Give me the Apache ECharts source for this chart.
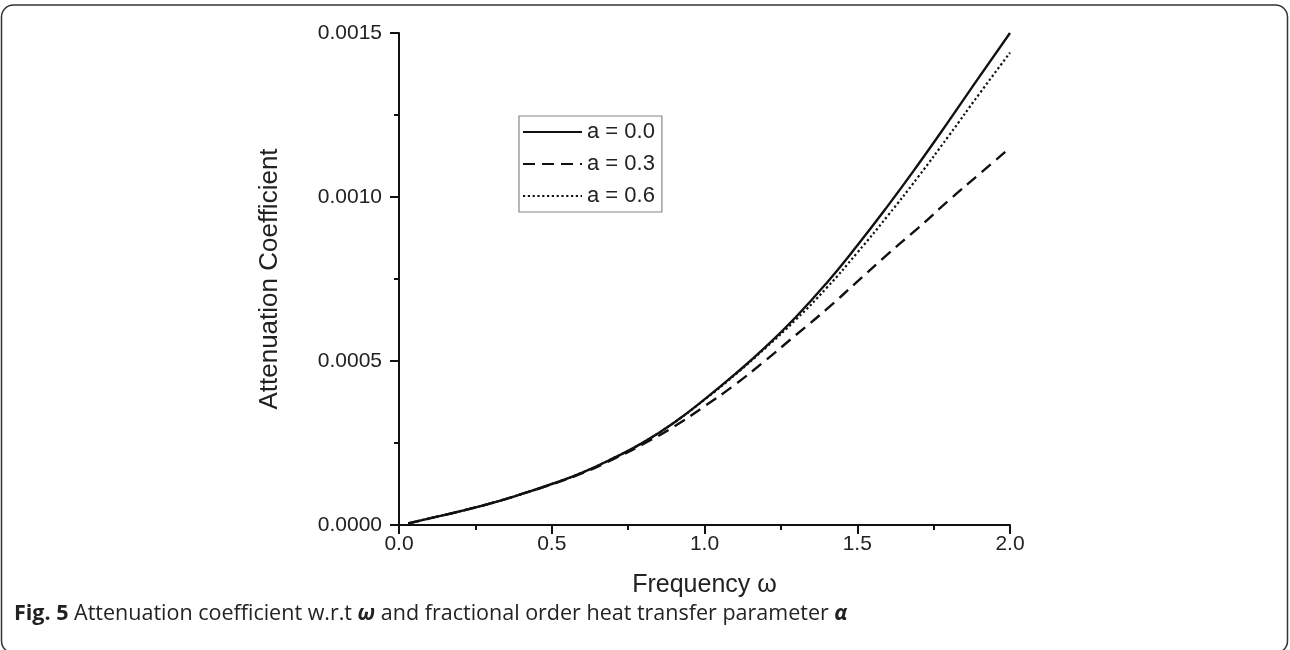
<!DOCTYPE html>
<html>
<head>
<meta charset="utf-8">
<script src="https://cdn.jsdelivr.net/npm/echarts@6/dist/echarts.min.js"></script>
<style>
html,body{margin:0;padding:0;background:#fff;}
#chart{width:1290px;height:650px;}
</style>
</head>
<body>
<div id="chart"></div>
<script>
// Frequency ω values (x)
const omega = [0.03, 0.1, 0.2, 0.3, 0.4, 0.5, 0.6, 0.7, 0.8, 0.9, 1.0, 1.1, 1.2, 1.3, 1.4, 1.5, 1.6, 1.7, 1.8, 1.9, 2.0];
// Attenuation coefficient for a = 0.0
const a00 = [0.000005, 0.000020, 0.000042, 0.000066, 0.000094, 0.000125, 0.000160, 0.000203, 0.000252, 0.000312, 0.000383, 0.000460, 0.000543, 0.000635, 0.000738, 0.000852, 0.000973, 0.001100, 0.001232, 0.001367, 0.001500];
// a = 0.3
const a03 = [0.000005, 0.000020, 0.000042, 0.000066, 0.000094, 0.000124, 0.000158, 0.000200, 0.000247, 0.000300, 0.000362, 0.000428, 0.000502, 0.000580, 0.000658, 0.000742, 0.000826, 0.000906, 0.000990, 0.001070, 0.001150];
// a = 0.6
const a06 = [0.000005, 0.000020, 0.000042, 0.000066, 0.000094, 0.000125, 0.000160, 0.000203, 0.000252, 0.000312, 0.000382, 0.000458, 0.000540, 0.000627, 0.000723, 0.000830, 0.000943, 0.001062, 0.001187, 0.001315, 0.001440];
const seriesNames = ['a = 0.0', 'a = 0.3', 'a = 0.6'];
const yTicks = [0, 0.0005, 0.0010, 0.0015];
const xTicks = [0, 0.5, 1.0, 1.5, 2.0];

const pair = (ys) => omega.map((x, i) => [x, ys[i]]);
const axisFont = 'Liberation Sans, Arial, sans-serif';
const chart = echarts.init(document.getElementById('chart'), null, {renderer: 'canvas'});

const lineStyles = [
  {color: '#111', width: 2.4, type: 'solid'},
  {color: '#111', width: 2.4, type: [12, 7]},
  {color: '#111', width: 2.2, type: [2.2, 2.6]}
];
const datasets = [a00, a03, a06];

chart.setOption({
  animation: false,
  backgroundColor: '#fff',
  grid: {left: 399, right: 280, top: 33, bottom: 125},
  legend: {
    orient: 'vertical',
    left: 519, top: 116,
    padding: [5, 7, 5, 3],
    itemGap: 10,
    itemWidth: 59,
    itemHeight: 20,
    borderColor: '#888',
    borderWidth: 1.2,
    itemStyle: {opacity: 0},
    textStyle: {fontFamily: axisFont, fontSize: 22, color: '#222'},
    data: seriesNames
  },
  xAxis: {
    type: 'value', min: 0, max: 2, interval: 0.5,
    name: 'Frequency ω', nameLocation: 'middle', nameGap: 48,
    nameTextStyle: {fontFamily: axisFont, fontSize: 25, color: '#222'},
    axisLine: {lineStyle: {color: '#111', width: 2}},
    axisTick: {length: 9, lineStyle: {width: 2, color: '#111'}},
    minorTick: {show: true, splitNumber: 2, length: 5, lineStyle: {width: 2, color: '#111'}},
    splitLine: {show: false},
    axisLabel: {fontFamily: axisFont, fontSize: 21, color: '#222', margin: 9,
      formatter: v => xTicks.includes(v) ? v.toFixed(1) : ''}
  },
  yAxis: {
    type: 'value', min: 0, max: 0.0015, interval: 0.0005,
    name: 'Attenuation Coefficient', nameLocation: 'middle', nameGap: 116,
    nameTextStyle: {fontFamily: axisFont, fontSize: 26, color: '#222'},
    axisLine: {show: true, lineStyle: {color: '#111', width: 2}},
    axisTick: {show: true, length: 9, lineStyle: {width: 2, color: '#111'}},
    minorTick: {show: true, splitNumber: 2, length: 5, lineStyle: {width: 2, color: '#111'}},
    splitLine: {show: false},
    axisLabel: {fontFamily: axisFont, fontSize: 21, color: '#222', margin: 17,
      formatter: v => yTicks.some(t => Math.abs(t - v) < 1e-9) ? v.toFixed(4) : ''}
  },
  series: seriesNames.map((n, i) => ({
    name: n, type: 'line', smooth: true, symbol: 'none',
    data: pair(datasets[i]),
    lineStyle: lineStyles[i],
    itemStyle: {color: '#111'},
    z: 3 - i
  })),
  graphic: [
    {type: 'rect', shape: {x: 1.5, y: 5, width: 1286, height: 648, r: 12},
     style: {fill: 'none', stroke: '#333', lineWidth: 1.5}, silent: true},
    {type: 'text', left: 14, top: 603,
     style: {
       text: '{b|Fig. 5} Attenuation coefficient w.r.t {bi|ω} and fractional order heat transfer parameter {bi|α}',
       font: '21.5px "Open Sans"',
       fill: '#222',
       rich: {
         b: {fontWeight: 'bold', fontFamily: 'Open Sans', fontSize: 21.5, fill: '#222'},
         bi: {fontWeight: 'bold', fontStyle: 'italic', fontFamily: 'Open Sans', fontSize: 21.5, fill: '#222'}
       }
     }}
  ]
});
</script>
</body>
</html>
